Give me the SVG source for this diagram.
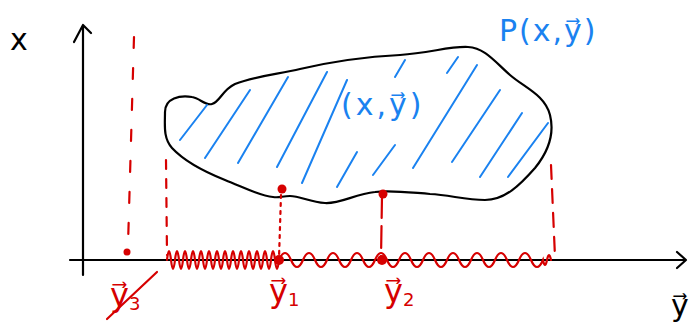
<svg xmlns="http://www.w3.org/2000/svg" width="692" height="329" viewBox="0 0 692 329">
<style>
.ax{fill:none;stroke:#000;stroke-width:2.2;stroke-linecap:round;stroke-linejoin:round}
.blob{fill:none;stroke:#000;stroke-width:2.2}
.hatch{fill:none;stroke:#1a82f0;stroke-width:2;stroke-linecap:round}
.red{fill:none;stroke:#d60000;stroke-width:2.2;stroke-linecap:round}
.dot{fill:#d60000}
.tb{font-family:"DejaVu Sans",sans-serif;fill:#1a82f0}
.tr{font-family:"DejaVu Sans",sans-serif;fill:#d60000}
.tk{font-family:"DejaVu Sans",sans-serif;fill:#000}
</style>
<rect width="692" height="329" fill="#fff"/>
<g id="axes">
<path class="ax" d="M83,275 L83,25 M74,42 L83,25 L91,33"/>
<path class="ax" d="M70,260 L686,260 M677,252 L686,260 L677,268"/>
<text class="tk" x="10" y="50" font-size="30">x</text>
<text class="tk" x="671" y="316" font-size="30">y&#x20D7;</text>
</g>
<g id="region">
<path class="blob" d="M165,112 C165,98 180,95 192,97 C200,98 205,106 212,104 C220,102 222,90 235,84 C255,76 280,74 300,69 C330,62 360,57 400,55 C430,53 450,46 468,47 C485,48 495,62 510,75 C525,88 545,95 550,115 C555,135 548,152 535,168 C520,185 505,200 485,200 C465,200 450,195 430,194 C405,192 390,190 375,192 C355,194 340,204 325,203 C310,202 300,196 290,196 C282,196 280,198 273,197 C260,196 245,188 225,180 C205,172 185,162 172,148 C163,138 165,125 165,112 Z"/>
<path class="hatch" d="M180,140 L207,105 M205,158 L250,90 M238,163 L288,77 M277,167 L327,72 M302,183 L347,80 M337,187 L357,152 M373,175 L395,145 M395,77 L405,60 M413,168 L477,65 M447,73 L458,57 M452,162 L500,90 M480,177 L522,113 M508,177 L548,123"/>
<text class="tb" x="341" y="115" font-size="30" letter-spacing="3">(x,y&#x20D7;)</text>
<text class="tb" x="499" y="41" font-size="30" letter-spacing="2">P(x,y&#x20D7;)</text>
</g>
<g id="projection">
<path class="red" d="M134,37 L128,245" stroke-dasharray="11,20"/>
<path class="red" d="M166,160 L167,255" stroke-dasharray="9,10"/>
<path class="red" d="M551,165 L555,257" stroke-dasharray="14,10"/>
<path class="red" d="M281,195 L279,258" stroke-dasharray="3,5"/>
<path class="red" d="M382,196 L381,258" stroke-dasharray="22,8"/>
<path class="red" d="M167,260 q2,-18 4,0 t4,0 t4,0 t4,0 t4,0 t4,0 t4,0 t4,0 t4,0 t4,0 t4,0 t4,0 t4,0 t4,0 t4,0 t4,0 t4,0 t4,0 t4,0 t4,0 t4,0 t4,0 t4,0 t4,0 t4,0 t4,0 t4,0 t4,0 q6,-14 12,0 t12,0 t12,0 t12,0 t12,0 t12,0 t12,0 t12,0 t12,0 t12,0 t12,0 t12,0 t12,0 t12,0 t12,0 t12,0 t12,0 t12,0 t12,0 t12,0 t12,0 t12,0 q2,10 4,0 t4,0"/>
<circle class="dot" cx="282" cy="189" r="4.5"/>
<circle class="dot" cx="383" cy="194" r="4.5"/>
<circle class="dot" cx="279" cy="260" r="5"/>
<circle class="dot" cx="382" cy="260" r="5"/>
<circle class="dot" cx="127" cy="252" r="3.5"/>
<text class="tr" x="110" y="306" font-size="32">y&#x20D7;<tspan font-size="18" dy="4">3</tspan></text>
<path class="red" d="M107,319 L157,272"/>
<text class="tr" x="269" y="302" font-size="32">y&#x20D7;<tspan font-size="18" dy="4">1</tspan></text>
<text class="tr" x="384" y="302" font-size="32">y&#x20D7;<tspan font-size="18" dy="4">2</tspan></text>
</g>
</svg>
